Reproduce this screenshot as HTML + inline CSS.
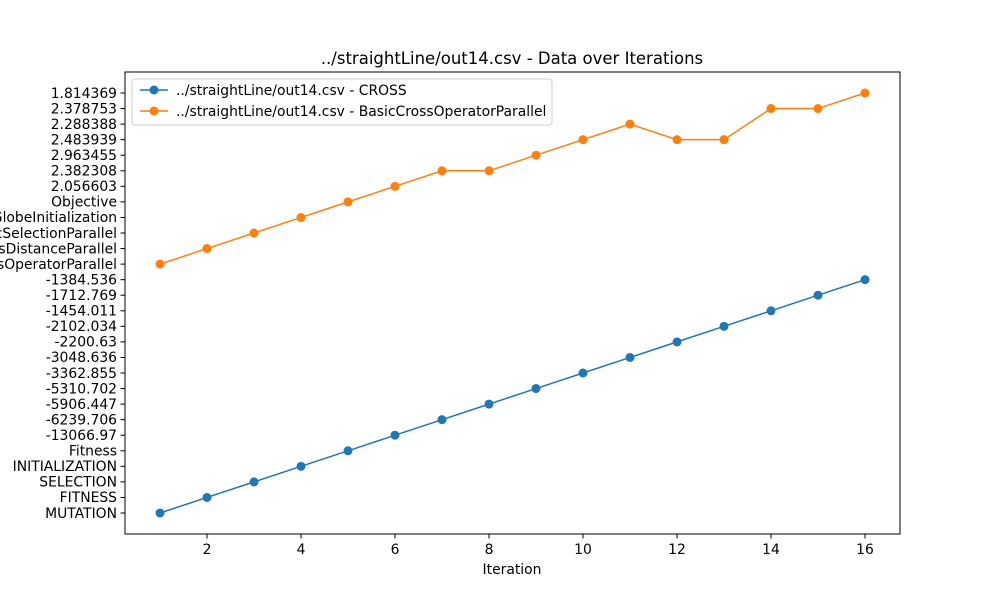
<!DOCTYPE html>
<html><head><meta charset="utf-8"><style>
html,body{margin:0;padding:0;background:#fff;}
svg{display:block;font-family:"DejaVu Sans","Liberation Sans",sans-serif;}
</style></head><body>
<svg id="chart" width="1000" height="600" viewBox="0 0 1000 600" xmlns="http://www.w3.org/2000/svg">
<rect width="1000" height="600" fill="#fff"/>
<text x="512" y="64" font-size="16.5" text-anchor="middle">../straightLine/out14.csv - Data over Iterations</text>
<g id="grid"></g>
<g id="series"></g>
<rect x="125" y="72" width="775" height="462" fill="none" stroke="#000" stroke-width="1"/>
<text x="512" y="574" font-size="13.9" text-anchor="middle">Iteration</text>
<g>
<rect x="132" y="79" width="420" height="46" fill="#fff" fill-opacity="0.8" stroke="#ccc" rx="3"/>
<line x1="140" y1="90" x2="168" y2="90" stroke="#1f77b4" stroke-width="1.5"/>
<circle cx="154" cy="90" r="4.5" fill="#1f77b4"/>
<text x="176" y="95" font-size="13.9">../straightLine/out14.csv - CROSS</text>
<line x1="140" y1="111" x2="168" y2="111" stroke="#ff7f0e" stroke-width="1.5"/>
<circle cx="154" cy="111" r="4.5" fill="#ff7f0e"/>
<text x="176" y="116" font-size="13.9">../straightLine/out14.csv - BasicCrossOperatorParallel</text>
</g>
</svg>
<script>
const categories = ["MUTATION","FITNESS","SELECTION","INITIALIZATION","Fitness","-13066.97","-6239.706","-5906.447","-5310.702","-3362.855","-3048.636","-2200.63","-2102.034","-1454.011","-1712.769","-1384.536","BasicCrossOperatorParallel","BasicMutationsDistanceParallel","BasicSelectionParallel","BasicGlobeInitialization","Objective","2.056603","2.382308","2.963455","2.483939","2.288388","2.378753","1.814369"];
const iterations = [1,2,3,4,5,6,7,8,9,10,11,12,13,14,15,16];
const crossValues = ["MUTATION","FITNESS","SELECTION","INITIALIZATION","Fitness","-13066.97","-6239.706","-5906.447","-5310.702","-3362.855","-3048.636","-2200.63","-2102.034","-1454.011","-1712.769","-1384.536"];
const basicValues = ["BasicCrossOperatorParallel","BasicMutationsDistanceParallel","BasicSelectionParallel","BasicGlobeInitialization","Objective","2.056603","2.382308","2.382308","2.963455","2.483939","2.288388","2.483939","2.483939","2.378753","2.378753","1.814369"];
const xTicks = [2,4,6,8,10,12,14,16];

const NS = "http://www.w3.org/2000/svg";
const xScale = v => 160 + (v - 1) * 47;
const yScale = c => 513 - categories.indexOf(c) * (420 / 27);
const grid = document.getElementById('grid');
const series = document.getElementById('series');
function mk(tag, attrs, parent){ const e=document.createElementNS(NS,tag); for(const k in attrs) e.setAttribute(k,attrs[k]); parent.appendChild(e); return e; }

xTicks.forEach(t => {
  const x = xScale(t);
  const tk = mk('line',{x1:x,y1:534,x2:x,y2:538.5,stroke:'#000'},grid);
  
  
  const lb = mk('text',{x:x,y:554,'font-size':13.9,'text-anchor':'middle'},grid);
  lb.textContent = t;
  
  
});
categories.forEach(c => {
  const y = yScale(c);
  const tk = mk('line',{x1:120.5,y1:y,x2:125,y2:y,stroke:'#000'},grid);
  
  
  const lb = mk('text',{x:117,y:y+4.8,'font-size':13.9,'text-anchor':'end'},grid);
  lb.textContent = c;
  
  
});
function drawSeries(vals, color, name){
  const pts = vals.map((v,i)=>xScale(iterations[i])+','+yScale(v)).join(' ');
  const pl = mk('polyline',{points:pts,fill:'none',stroke:color,'stroke-width':1.5},series);
  
  
  vals.forEach((v,i)=>{
    const c = mk('circle',{cx:xScale(iterations[i]),cy:yScale(v),r:4.5,fill:color},series);
    
    
  });
}
drawSeries(crossValues,'#1f77b4','cross');
drawSeries(basicValues,'#ff7f0e','basic-cross-operator-parallel');
</script>
</body></html>
